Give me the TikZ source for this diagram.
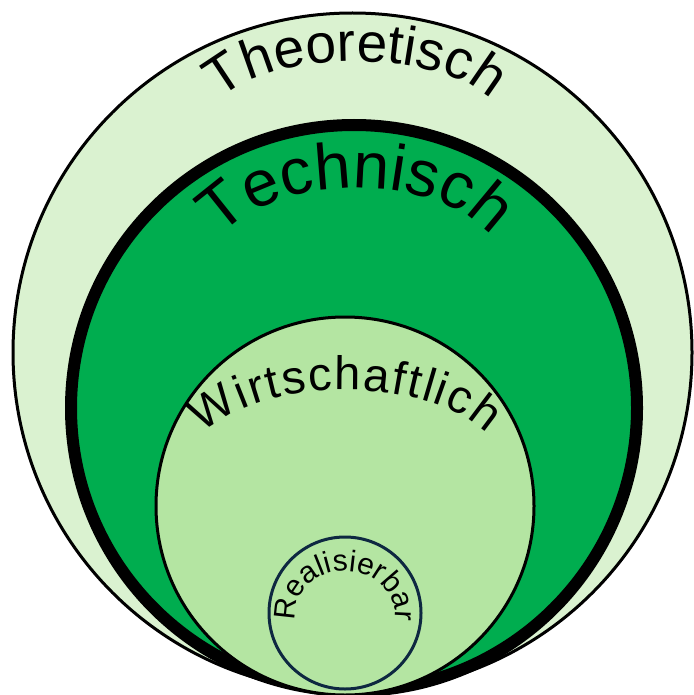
\documentclass[tikz,border=0pt]{standalone}
\usepackage{fontspec}
\setmainfont{Liberation Sans}
\usetikzlibrary{decorations.text}
\definecolor{outerfill}{HTML}{DAF2D0}
\definecolor{techfill}{HTML}{00AD4F}
\definecolor{wirtfill}{HTML}{B4E5A2}
\definecolor{realdraw}{HTML}{0E2841}
\tikzset{arctext/.style={decorate, decoration={text along path, text align=center, text={#1}}},
  fittext/.style={decorate, decoration={text along path, text align=fit to path, text={#1}}}}
\begin{document}
\begin{tikzpicture}[x=1pt,y=1pt]
\useasboundingbox (0,0) rectangle (693,-695);
% circles
\draw[line width=3pt, fill=outerfill] (352.5,-352.5) circle[radius=339.5];
\draw[line width=12pt, fill=techfill] (354,-408) circle[radius=283];
\draw[line width=3pt, fill=wirtfill] (345,-506) circle[radius=189];
\draw[line width=3pt, draw=realdraw, fill=wirtfill] (345,-613) circle[radius=76];
% texts (centred on elliptic arcs)
\path[arctext={|\fontsize{55}{55}\selectfont|Theoretisch}]
  (356,-121.5) ++(178:144 and 60) arc[start angle=178, end angle=2, x radius=144, y radius=60];
\path[arctext={|\fontsize{65}{65}\selectfont|Technisch}]
  (356,-269) ++(178:147 and 81) arc[start angle=178, end angle=2, x radius=147, y radius=81];
\path[fittext={|\fontsize{47}{47}\selectfont|Wirtschaftlich}]
  (345,-470) ++(153.3:159 and 80) arc[start angle=153.3, end angle=26.7, x radius=159, y radius=80];
\path[arctext={|\fontsize{30}{30}\selectfont|Realisierbar}]
  (345,-614) ++(215:50 and 43) arc[start angle=215, end angle=-35, x radius=50, y radius=43];
\end{tikzpicture}
\end{document}
